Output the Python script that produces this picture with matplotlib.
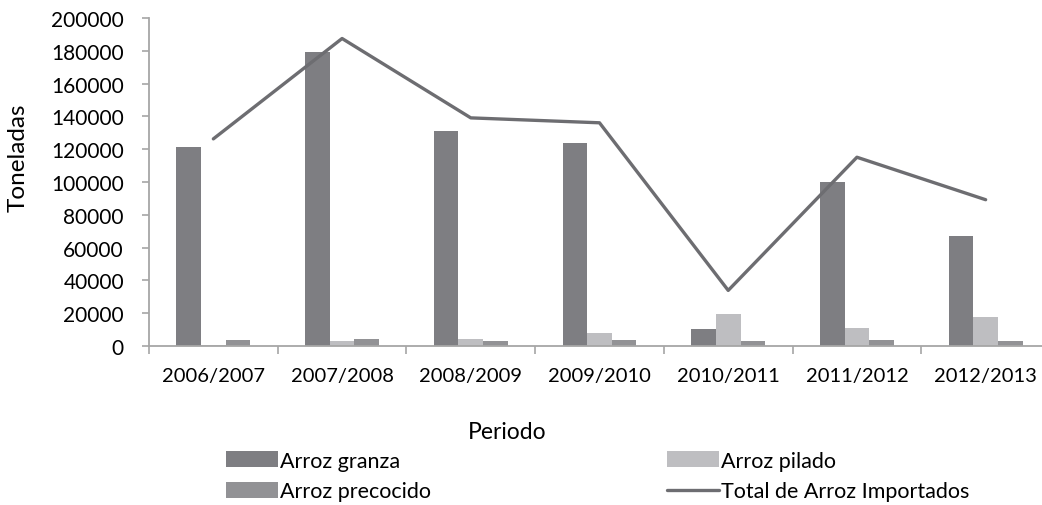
import matplotlib
matplotlib.use("Agg")
import numpy as np
from matplotlib import pyplot as plt

periodos = ["2006/2007", "2007/2008", "2008/2009", "2009/2010",
            "2010/2011", "2011/2012", "2012/2013"]
granza = [121600, 179300, 131000, 123800, 10200, 100000, 67200]
pilado = [500, 3000, 4500, 8000, 19800, 11000, 17700]
precocido = [3700, 4300, 3000, 3900, 3000, 3700, 3000]
total = [126300, 187500, 139100, 136100, 33900, 115100, 89200]

plt.rcParams['font.family'] = ['Lato', 'DejaVu Sans']

fig = plt.figure(figsize=(10.42, 5.06), dpi=100)
ax = fig.add_axes([149/1042, 159/506, 901/1042, 328/506])

x = np.arange(len(periodos))
w = 0.191
axis_col = '#a6a6a6'
b1 = ax.bar(x - w, granza, w, color='#7e7e82', label='Arroz granza')
b2 = ax.bar(x, pilado, w, color='#bebec1', label='Arroz pilado')
b3 = ax.bar(x + w, precocido, w, color='#929295', label='Arroz precocido')
l1, = ax.plot(x, total, color='#6d6d71', lw=2.4, solid_capstyle='round',
              label='Total de Arroz Importados')

ax.set_xlim(-0.5, len(periodos) - 0.5)
ax.set_ylim(0, 200000)
ax.set_yticks(np.arange(0, 200001, 20000))
ax.set_xticks(np.arange(-0.5, len(periodos), 1.0))
ax.set_xticklabels([])
ax.set_xticks(x, minor=True)
ax.set_xticklabels(periodos, minor=True)

for s in ['top', 'right']:
    ax.spines[s].set_visible(False)
for s in ['left', 'bottom']:
    ax.spines[s].set_color(axis_col)
    ax.spines[s].set_linewidth(1.3)

ax.tick_params(axis='y', length=5, width=1.2, color=axis_col, pad=13, labelsize=15)
ax.tick_params(axis='x', which='major', length=6, width=1.2, color=axis_col)
ax.tick_params(axis='x', which='minor', length=0, pad=15, labelsize=14.5)

fig.text(18/1042, 1 - 158/506, 'Toneladas', rotation=90, ha='center', va='center', fontsize=17.5)
fig.text(507/1042, 1 - 433/506, 'Periodo', ha='center', va='center', fontsize=16.5)

leg_kw = dict(ncol=1, frameon=False, loc='center left', fontsize=15.5,
              handlelength=2.4, handleheight=0.75, handletextpad=0.12,
              labelspacing=0.5, borderpad=0, borderaxespad=0)
leg1 = fig.legend([b1, b3], ['Arroz granza', 'Arroz precocido'],
                  bbox_to_anchor=(226/1042, 1 - 477/506), **leg_kw)
leg2 = fig.legend([b2, l1], ['Arroz pilado', 'Total de Arroz Importados'],
                  bbox_to_anchor=(667/1042, 1 - 477/506), **leg_kw)

fig.savefig('out.png', dpi=100)
